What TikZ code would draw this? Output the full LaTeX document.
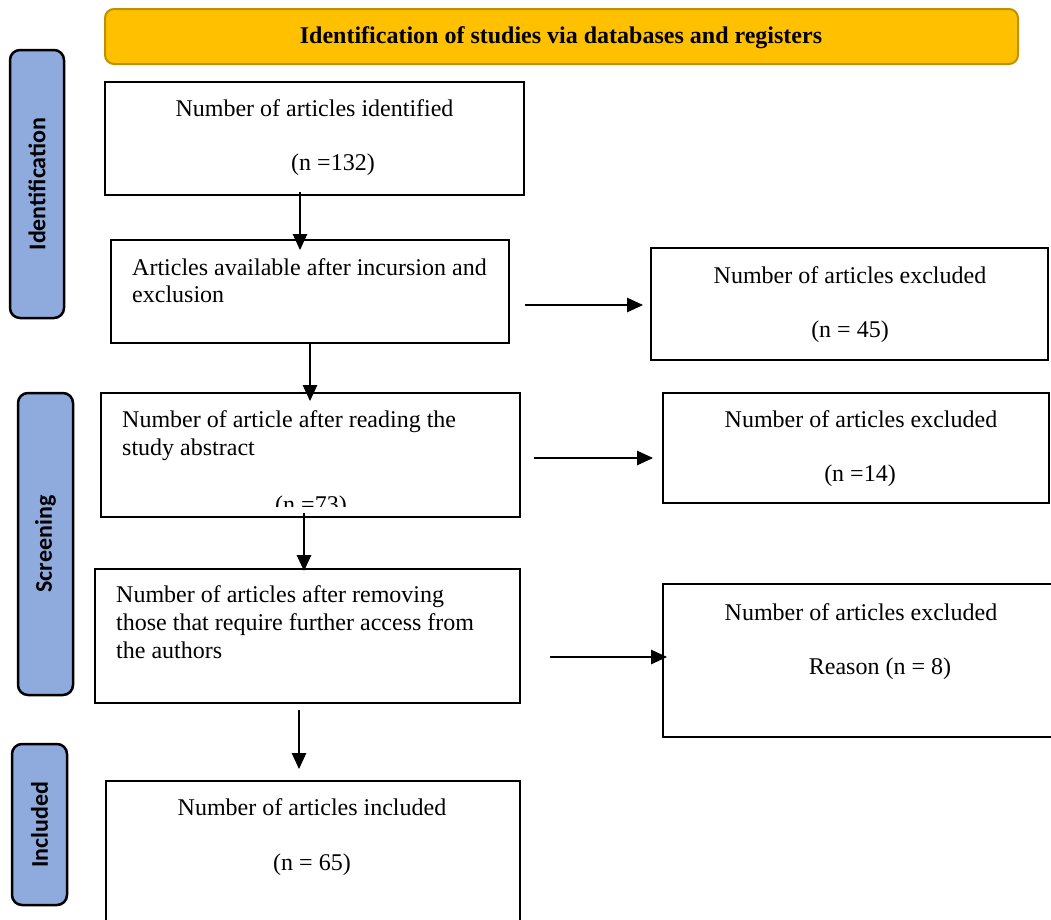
\documentclass[tikz,border=0pt]{standalone}
\usepackage{fontspec}
\setmainfont{Liberation Serif}
\newfontfamily\lblfont{Carlito}
\usetikzlibrary{arrows.meta,calc}
\definecolor{bannerfill}{HTML}{FFC000}
\definecolor{bannerline}{HTML}{BF9000}
\definecolor{phasefill}{HTML}{8FAADC}
\tikzset{
  boxnode/.style={draw=black, line width=2.2pt, rectangle, anchor=north west, inner sep=0pt, outer sep=0pt},
  phasebox/.style={draw=black, line width=2.5pt, fill=phasefill, rounded corners=10pt, rectangle, anchor=north west, inner sep=0pt, outer sep=0pt},
  phasetxt/.style={font=\lblfont\bfseries\fontsize{24}{28}\selectfont, rotate=90, inner sep=0pt},
  txt/.style={font=\fontsize{24}{27.6}\selectfont, inner sep=0pt, anchor=base},
  txtl/.style={font=\fontsize{24}{27.6}\selectfont, inner sep=0pt, anchor=base west},
  arr/.style={line width=1.1pt, -{Triangle[length=16pt,width=14.5pt]}},
}
\begin{document}
\begin{tikzpicture}[x=1pt,y=-1pt]
\useasboundingbox (0,0) rectangle (1051,919);
\clip (0,0) rectangle (1051,919);

% banner
\node[draw=bannerline, line width=2pt, fill=bannerfill, rounded corners=9pt, rectangle, anchor=north west,
      inner sep=0pt, minimum width=913pt, minimum height=55pt] (banner) at (104,8) {};
\node[txt, font=\bfseries\fontsize{24}{27.6}\selectfont] (bannertxt) at (561,43) {Identification of studies via databases and registers};

% phase labels
\node[phasebox, minimum width=54pt, minimum height=268pt] (l1) at (10,50) {};
\node[phasetxt] (l1t) at (l1.center) {Identification};
\node[phasebox, minimum width=55pt, minimum height=302pt] (l2) at (18,393) {};
\node[phasetxt] (l2t) at (l2.center) {Screening};
\node[phasebox, minimum width=55pt, minimum height=161pt] (l3) at (12,744) {};
\node[phasetxt] (l3t) at (l3.center) {Included};

% main boxes
\node[boxnode, minimum width=419pt, minimum height=113pt] (b1) at (105,82) {};
\node[txt] (b1a) at (314.5,116) {Number of articles identified};
\node[txt] (b1b) at (333,170) {(n =132)};

\node[boxnode, minimum width=398pt, minimum height=103pt] (b2) at (111,240) {};
\node[txtl] (b2a) at (132,275) {Articles available after incursion and};
\node[txtl] (b2b) at (132,302) {exclusion};

\node[boxnode, minimum width=419pt, minimum height=124pt] (b3) at (101,393) {};
\node[txtl] (b3a) at (122,427) {Number of article after reading the};
\node[txtl] (b3b) at (122,455) {study abstract};
\begin{scope}
  \clip (b3.north west) rectangle ($(b3.south east)+(0,-11)$);
  \node[txt] (b3c) at (311,512) {(n =73)};
\end{scope}

\node[boxnode, minimum width=425pt, minimum height=134pt] (b4) at (95,569) {};
\node[txtl] (b4a) at (116,602) {Number of articles after removing};
\node[txtl] (b4b) at (116,630) {those that require further access from};
\node[txtl] (b4c) at (116,658) {the authors};

\node[boxnode, minimum width=414pt, minimum height=150pt] (b5) at (106,781) {};
\node[txt] (b5a) at (312,815) {Number of articles included};
\node[txt] (b5b) at (312,870) {(n = 65)};

% excluded boxes
\node[boxnode, minimum width=397pt, minimum height=112pt] (e1) at (651,248) {};
\node[txt] (e1a) at (850,283) {Number of articles excluded};
\node[txt] (e1b) at (850,337) {(n = 45)};

\node[boxnode, minimum width=386pt, minimum height=110pt] (e2) at (663,393) {};
\node[txt] (e2a) at (861,427) {Number of articles excluded};
\node[txt] (e2b) at (860,481) {(n =14)};

\node[boxnode, minimum width=400pt, minimum height=153pt] (e3) at (663,584) {};
\node[txt] (e3a) at (861,620) {Number of articles excluded};
\node[txt] (e3b) at (880,674) {Reason (n = 8)};

% vertical arrows
\draw[arr] ($(b1.south west)+(195,-3)$) -- ($(b2.north west)+(189,10)$);
\draw[arr] ($(b2.south west)+(199,0)$) -- ($(b3.north west)+(209,8)$);
\draw[arr] ($(b3.south west)+(203,-4)$) -- ($(b4.north west)+(209,2)$);
\draw[arr] ($(b4.south west)+(204,7)$) -- ($(b5.north west)+(193,-12)$);

% horizontal arrows
\draw[arr] ($(b2.east |- e1.west)+(16,1)$) -- ($(e1.west)+(-8,1)$);
\draw[arr] ($(b3.east)+(14,3)$) -- ($(e2.west)+(-10,10)$);
\draw[arr] ($(b4.east)+(30,21)$) -- ($(e3.west)+(4,-3.5)$);
\end{tikzpicture}
\end{document}
